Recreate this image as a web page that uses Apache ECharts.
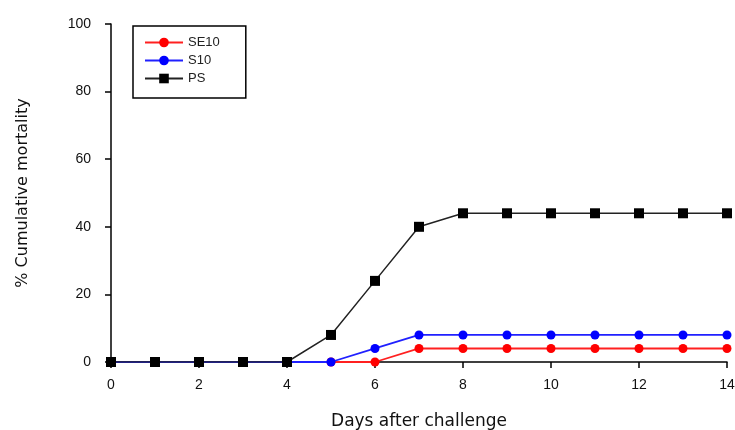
<!DOCTYPE html>
<html>
<head>
<meta charset="utf-8">
<script src="https://cdn.jsdelivr.net/npm/echarts@6/dist/echarts.min.js"></script>
<style>html,body{margin:0;padding:0;background:#fff}#c{width:735px;height:430px}</style>
</head>
<body>
<div id="c"></div>
<script>
const days = [0,1,2,3,4,5,6,7,8,9,10,11,12,13,14];
const se10 = [0,0,0,0,0,0,0,4,4,4,4,4,4,4,4];
const s10  = [0,0,0,0,0,0,4,8,8,8,8,8,8,8,8];
const ps   = [0,0,0,0,0,8,24,40,44,44,44,44,44,44,44];
const seriesNames = ['SE10','S10','PS'];

const pair = arr => days.map((d,i)=>[d,arr[i]]);
const font = 'Liberation Sans, Arial, sans-serif';
const chart = echarts.init(document.getElementById('c'), null, {renderer:'canvas'});
chart.setOption({
  animation:false,
  backgroundColor:'#fff',
  textStyle:{fontFamily:font},
  grid:{left:111,right:8,top:24,bottom:68,containLabel:false,outerBoundsMode:'none'},
  legend:{
    orient:'vertical', left:133, top:26,
    itemWidth:38, itemHeight:12, itemGap:5,
    padding:[10,26,13,11],
    borderColor:'#000', borderWidth:1.5,
    textStyle:{fontSize:13,color:'#222',fontFamily:font},
    data:seriesNames
  },
  xAxis:{
    type:'value', min:0, max:14, interval:2,
    name:'Days after challenge', nameLocation:'middle', nameGap:51,
    nameTextStyle:{fontSize:17,color:'#111',fontFamily:'DejaVu Sans'},
    axisLine:{show:true,lineStyle:{color:'#000',width:1.5}},
    axisTick:{show:true,inside:false,length:6,lineStyle:{color:'#000',width:1.5}},
    axisLabel:{fontSize:14,color:'#111',margin:16},
    splitLine:{show:false}
  },
  yAxis:{
    type:'value', min:0, max:100, interval:20,
    name:'% Cumulative mortality', nameLocation:'middle', nameGap:80,
    nameTextStyle:{fontSize:16,color:'#111',fontFamily:'DejaVu Sans'},
    axisLine:{show:true,lineStyle:{color:'#000',width:1.5}},
    axisTick:{show:true,inside:false,length:6,lineStyle:{color:'#000',width:1.5}},
    axisLabel:{fontSize:14,color:'#111',margin:20},
    splitLine:{show:false}
  },
  series:[
    {name:'SE10',type:'line',data:pair(se10),symbol:'circle',symbolSize:9,
     itemStyle:{color:'#ff0000'},lineStyle:{color:'#ff2020',width:1.8},z:2},
    {name:'S10',type:'line',data:pair(s10),symbol:'circle',symbolSize:9,
     itemStyle:{color:'#0000ff'},lineStyle:{color:'#2020ff',width:1.8},z:3},
    {name:'PS',type:'line',data:pair(ps),symbol:'rect',symbolSize:10,
     itemStyle:{color:'#000'},lineStyle:{color:'#222',width:1.5},z:4}
  ]
});
</script>
</body>
</html>
